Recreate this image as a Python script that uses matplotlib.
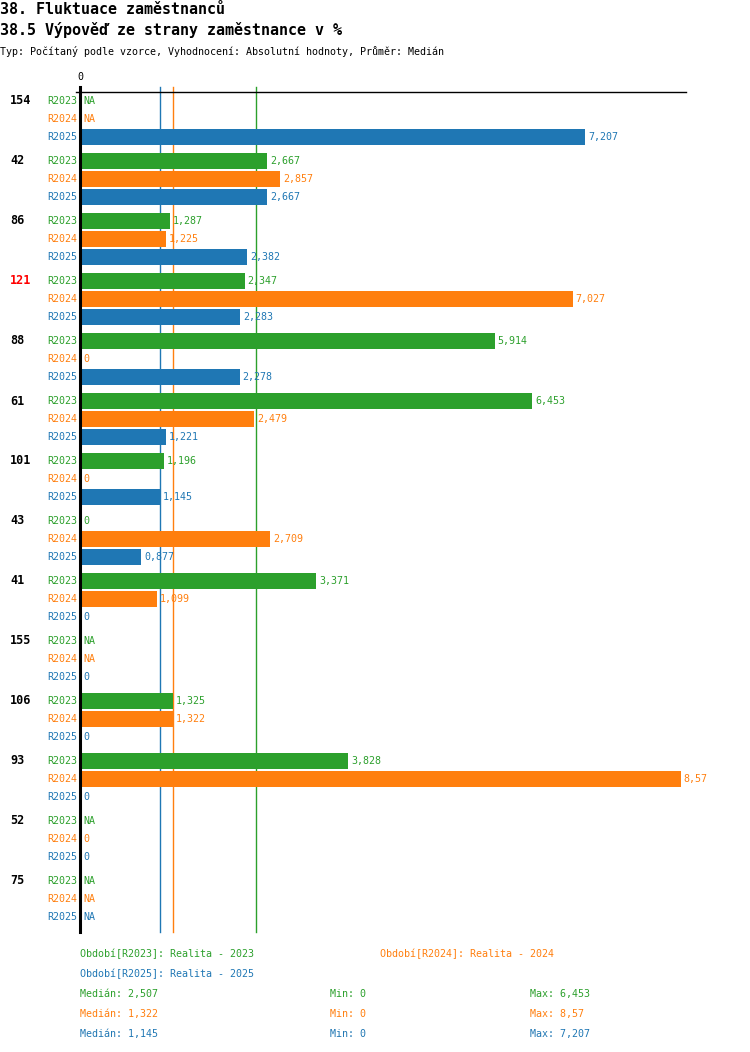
import matplotlib.pyplot as plt
import numpy as np

# data
groups = ['154', '42', '86', '121', '88', '61', '101', '43', '41', '155', '106', '93', '52', '75']
series = ['R2023', 'R2024', 'R2025']
colors = ['#2ca02c', '#ff7f0e', '#1f77b4']
nan = np.nan
r2023 = [nan, 2.667, 1.287, 2.347, 5.914, 6.453, 1.196, 0, 3.371, nan, 1.325, 3.828, nan, nan]
r2024 = [nan, 2.857, 1.225, 7.027, 0, 2.479, 0, 2.709, 1.099, nan, 1.322, 8.57, 0, nan]
r2025 = [7.207, 2.667, 2.382, 2.283, 2.278, 1.221, 1.145, 0.877, 0, 0, 0, 0, 0, nan]
highlight = '121'
legend_names = ['Období[R2023]: Realita - 2023', 'Období[R2024]: Realita - 2024',
                'Období[R2025]: Realita - 2025']

W, H = 750, 1052
mono = 'DejaVu Sans Mono'
plt.rcParams['font.family'] = [mono]

def fmt(v):
    if np.isnan(v):
        return 'NA'
    s = f'{v:.3f}'.rstrip('0').rstrip('.')
    return s.replace('.', ',')

def px(x, y):
    return x / W, 1 - y / H

fig = plt.figure(figsize=(W / 100, H / 100), dpi=100)
x0, x1, ytop, ybot = 80, 686, 92, 932
scale = 70.1  # px per unit
ax = fig.add_axes([x0 / W, (H - ybot) / H, (x1 - x0) / W, (ybot - ytop) / H])
ax.set_xlim(0, (x1 - x0) / scale)
ax.set_ylim(831, -9)
ax.axis('off')

data = [r2023, r2024, r2025]
for gi, g in enumerate(groups):
    ybase = gi * 60
    fig.text(*px(10, ybase + 101), g, fontsize=8.5, fontweight='bold',
             color='red' if g == highlight else 'black', va='center', ha='left')
    for si, s in enumerate(series):
        y = ybase + si * 18
        v = data[si][gi]
        ax.text(-3 / scale, y, s, color=colors[si], fontsize=7.2, ha='right', va='center')
        if not np.isnan(v) and v > 0:
            ax.barh(y, v, height=16, color=colors[si])
        xv = 0 if np.isnan(v) else v
        ax.text(xv + 3 / scale, y, fmt(v), color=colors[si], fontsize=7.2, ha='left', va='center')

# median lines
vals = [np.array(d, dtype=float) for d in data]
meds = [np.nanmedian(v) for v in vals]
for si in range(3):
    ax.plot([meds[si], meds[si]], [-14, 831], color=colors[si], lw=1, clip_on=False, zorder=0.5)

ax.plot([-4 / scale, (x1 - x0) / scale], [-9, -9], color='black', lw=1, clip_on=False)
ax.plot([0, 0], [-14, 831], color='black', lw=2.2, clip_on=False)
ax.text(0, -19, '0', fontsize=7.2, ha='center', va='bottom')

# titles
fig.text(*px(0, 13.5), '38. Fluktuace zaměstnanců', fontsize=10.8, fontweight='bold', va='baseline')
fig.text(*px(0, 35.5), '38.5 Výpověď ze strany zaměstnance v %', fontsize=10.8, fontweight='bold', va='baseline')
fig.text(*px(0, 55), 'Typ: Počítaný podle vzorce, Vyhodnocení: Absolutní hodnoty, Průměr: Medián',
         fontsize=7.2, va='baseline')

# legend
fig.text(*px(80, 954), legend_names[0], color=colors[0], fontsize=7.2, va='center')
fig.text(*px(380, 954), legend_names[1], color=colors[1], fontsize=7.2, va='center')
fig.text(*px(80, 974), legend_names[2], color=colors[2], fontsize=7.2, va='center')
for si in range(3):
    y = 994 + si * 20
    fig.text(*px(80, y), 'Medián: ' + fmt(meds[si]), color=colors[si], fontsize=7.2, va='center')
    fig.text(*px(330, y), 'Min: ' + fmt(np.nanmin(vals[si])), color=colors[si], fontsize=7.2, va='center')
    fig.text(*px(530, y), 'Max: ' + fmt(np.nanmax(vals[si])), color=colors[si], fontsize=7.2, va='center')

fig.savefig('out.png', dpi=100)
